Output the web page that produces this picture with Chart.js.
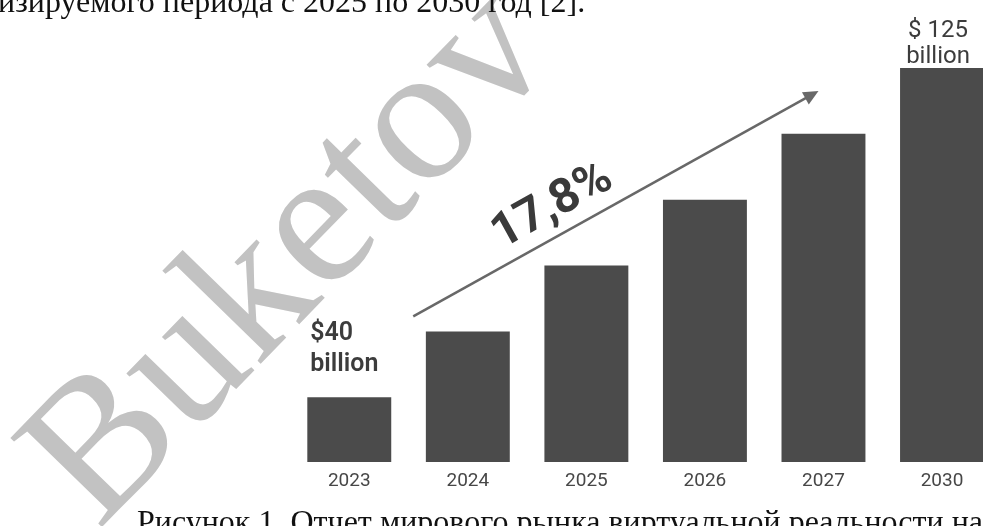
<!DOCTYPE html>
<html>
<head>
<meta charset="utf-8">
<script src="https://cdn.jsdelivr.net/npm/chart.js@4.4.1/dist/chart.umd.min.js"></script>
<style>
  html, body { margin: 0; padding: 0; width: 983px; height: 526px; overflow: hidden; background: #fff; }
  #wrap { position: relative; width: 983px; height: 526px; overflow: hidden; }
  #graph { position: absolute; left: 0; top: 0; }
  .doc { position: absolute; font-family: "Liberation Serif", "Times New Roman", serif; font-size: 32px; line-height: 32px; color: #111; white-space: nowrap; }
  #topline { left: -2px; top: 0; }
  #caption { left: 137px; top: 500px; }
</style>
</head>
<body>
<div id="wrap">
  <canvas id="graph" width="1002" height="526"></canvas>
  <div class="doc" id="topline">изируемого периода с 2025 по 2030 год [2].</div>
  <div class="doc" id="caption">Рисунок 1. Отчет мирового рынка виртуальной реальности на</div>
</div>
<script>
// market size, billion $
var years = ['2023', '2024', '2025', '2026', '2027', '2030'];
var market = [40, 57, 74, 91, 108, 125];
var firstLabel = ['$40', 'billion'];
var lastLabel = ['$ 125', 'billion'];
var growthTxt = '17,8%';
var watermark = 'Buketov';

var barColor = '#4b4b4b';

// put a text line so its baseline sits at y
function setBaseline(el, y) {
  var m = document.createElement('span');
  m.style.display = 'inline-block';
  m.style.width = '0';
  m.style.height = '0';
  m.style.verticalAlign = 'baseline';
  el.appendChild(m);
  var off = m.getBoundingClientRect().top - el.getBoundingClientRect().top;
  el.removeChild(m);
  el.style.top = (y - off) + 'px';
}

var topline = document.getElementById('topline');
var caption = document.getElementById('caption');
setBaseline(topline, 12);
setBaseline(caption, 532);
// caption line is justified in the document
var spaces = caption.textContent.split(' ').length - 1;
var extra = (983 - 137 - caption.getBoundingClientRect().width) / spaces;
if (extra > 0) caption.style.wordSpacing = extra + 'px';

// watermark behind the bars
var watermarkPlugin = {
  id: 'watermark',
  beforeDatasetsDraw: function(chart) {
    var ctx = chart.ctx;
    ctx.save();
    ctx.translate(98, 531);
    ctx.rotate(-45.8 * Math.PI / 180);
    ctx.font = '195px "Liberation Serif"';
    ctx.fillStyle = '#c2c2c2';
    ctx.textBaseline = 'alphabetic';
    ctx.textAlign = 'left';
    ctx.fillText(watermark, 0, 0);
    ctx.restore();
  }
};

// value notes, growth arrow and rate
var notesPlugin = {
  id: 'notes',
  afterDatasetsDraw: function(chart) {
    var ctx = chart.ctx;
    var bars = chart.getDatasetMeta(0).data;
    var b0 = bars[0], b1 = bars[1], b4 = bars[4], b5 = bars[bars.length - 1];
    ctx.save();

    // first bar note
    ctx.fillStyle = '#3c3c3c';
    ctx.font = '600 25px Roboto';
    ctx.textAlign = 'left';
    ctx.textBaseline = 'alphabetic';
    var lx = b0.x - b0.width / 2 + 3;
    ctx.fillText(firstLabel[0], lx, b0.y - 57);
    ctx.fillText(firstLabel[1], lx, b0.y - 26);

    // last bar note
    ctx.font = '24px Roboto';
    ctx.textAlign = 'center';
    ctx.fillText(lastLabel[0], b5.x - 4, b5.y - 31);
    ctx.fillText(lastLabel[1], b5.x - 4, b5.y - 5);

    // arrow
    var x1 = b0.x + b0.width / 2 + 22, y1 = b1.y - 15;
    var x2 = b4.x - 5, y2 = b5.y + 23;
    var ang = Math.atan2(y2 - y1, x2 - x1);
    ctx.strokeStyle = '#686868';
    ctx.fillStyle = '#686868';
    ctx.lineWidth = 2.5;
    ctx.beginPath();
    ctx.moveTo(x1, y1);
    ctx.lineTo(x2 - 10 * Math.cos(ang), y2 - 10 * Math.sin(ang));
    ctx.stroke();
    ctx.save();
    ctx.translate(x2, y2);
    ctx.rotate(ang);
    ctx.beginPath();
    ctx.moveTo(0, 0);
    ctx.lineTo(-15, -7);
    ctx.lineTo(-15, 7);
    ctx.closePath();
    ctx.fill();
    ctx.restore();

    // growth rate along the arrow
    var len = Math.sqrt((x2 - x1) * (x2 - x1) + (y2 - y1) * (y2 - y1));
    var t = 175 / len;
    ctx.translate(x1 + (x2 - x1) * t, y1 + (y2 - y1) * t);
    ctx.rotate(ang);
    ctx.fillStyle = '#3a3a3a';
    ctx.font = 'bold 48px Roboto';
    ctx.textAlign = 'center';
    ctx.textBaseline = 'alphabetic';
    ctx.fillText(growthTxt, 0, -16);
    ctx.restore();
  }
};

var ctx = document.getElementById('graph');
var myChart = new Chart(ctx, {
  type: 'bar',
  data: {
    labels: years,
    datasets: [{
      label: 'VR market',
      data: market,
      backgroundColor: barColor,
      borderWidth: 0,
      categoryPercentage: 1,
      barPercentage: 0.708
    }]
  },
  options: {
    responsive: false,
    animation: false,
    layout: { padding: { left: 290, right: 0.7, top: 68, bottom: 25.2 } },
    plugins: {
      legend: { display: false },
      tooltip: { enabled: false },
      title: { display: false }
    },
    scales: {
      x: {
        grid: { display: false, drawTicks: false },
        border: { display: false },
        ticks: { color: '#474747', font: { family: 'Roboto', size: 19 }, padding: 8, maxRotation: 0 }
      },
      y: {
        display: false,
        min: 23.3,
        max: 125
      }
    }
  },
  plugins: [watermarkPlugin, notesPlugin]
});
</script>
</body>
</html>
